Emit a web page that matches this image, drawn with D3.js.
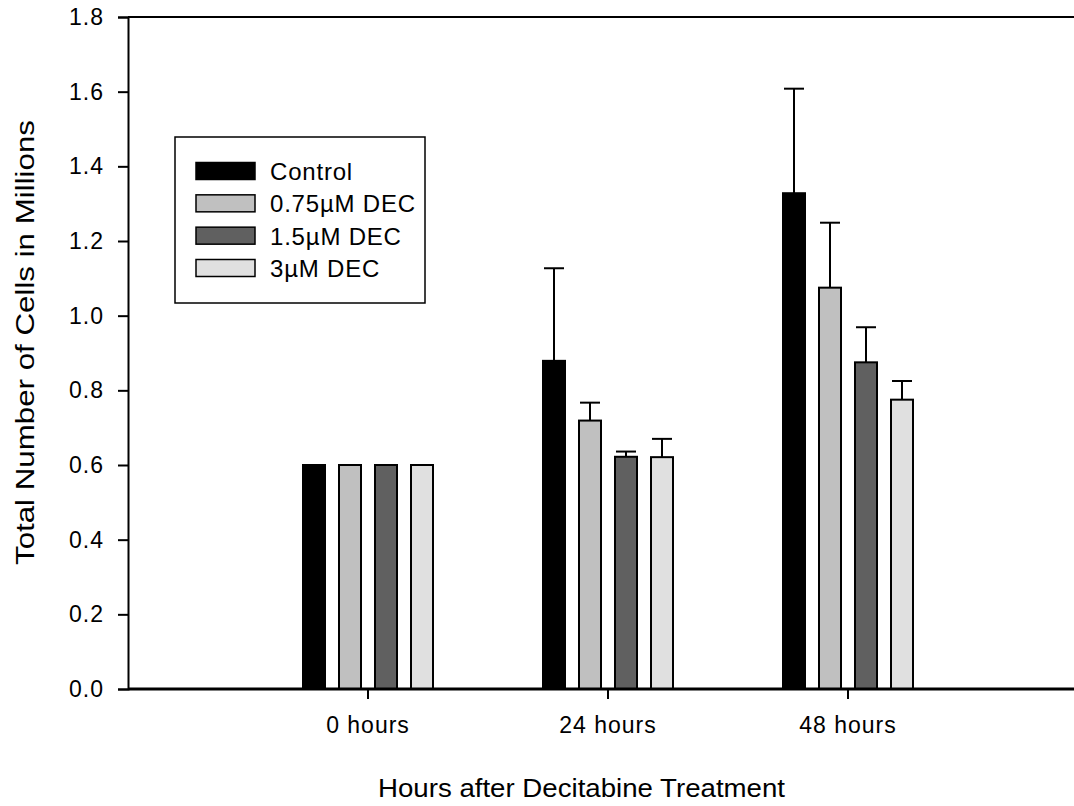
<!DOCTYPE html>
<html>
<head>
<meta charset="utf-8">
<script src="https://cdn.jsdelivr.net/npm/d3@7"></script>
<style>
  body { margin: 0; background: #fff; }
  text { font-family: "Liberation Sans", Arial, sans-serif; fill: #000; }
</style>
</head>
<body>
<div id="chart"></div>
<script>
// data
var categories = ["0 hours", "24 hours", "48 hours"];
var series = ["Control", "0.75\u00b5M DEC", "1.5\u00b5M DEC", "3\u00b5M DEC"];
var seriesColors = ["#000000", "#c0c0c0", "#606060", "#e0e0e0"];
var means = [
  [0.60, 0.879, 1.328],   // Control
  [0.60, 0.719, 1.075],   // 0.75uM
  [0.60, 0.622, 0.875],   // 1.5uM
  [0.60, 0.621, 0.775]    // 3uM
];
var errors = [
  [0, 0.248, 0.280],
  [0, 0.048, 0.174],
  [0, 0.014, 0.094],
  [0, 0.049, 0.050]
];
var yTicks = [0, 0.2, 0.4, 0.6, 0.8, 1.0, 1.2, 1.4, 1.6, 1.8];

(function() {
  var width = 1074,
      height = 806;

  var left = 128, right = 1074, top = 17, bottom = 689;

  var svg = d3.select("#chart")
    .append("svg")
    .attr("width", width)
    .attr("height", height);

  var y = d3.scaleLinear().domain([0, 1.8]).range([bottom, top]);

  // group positions: 368, 608, 848
  var x = d3.scaleBand().domain(categories).range([248, 968]).padding(0);

  // bars inside a group
  var xs = d3.scaleBand().domain(series).range([-72, 72])
    .paddingInner(0.389).paddingOuter(0.1945);

  var rows = [];
  series.forEach(function(s, si) {
    categories.forEach(function(c, ci) {
      rows.push({ s: s, si: si, c: c, v: means[si][ci], e: errors[si][ci] });
    });
  });

  // error bars (upper only)
  var eb = svg.append("g").attr("stroke", "#000").attr("stroke-width", 2);
  rows.filter(function(d) { return d.e > 0; }).forEach(function(d) {
    var cx = x(d.c) + x.bandwidth() / 2 + xs(d.s) + xs.bandwidth() / 2;
    eb.append("line")
      .attr("x1", cx).attr("x2", cx)
      .attr("y1", y(d.v)).attr("y2", y(d.v + d.e));
    eb.append("line")
      .attr("x1", cx - 10).attr("x2", cx + 10)
      .attr("y1", y(d.v + d.e)).attr("y2", y(d.v + d.e));
  });

  // bars
  svg.append("g").selectAll("rect")
    .data(rows)
    .enter().append("rect")
    .attr("x", function(d) { return x(d.c) + x.bandwidth() / 2 + xs(d.s); })
    .attr("y", function(d) { return y(d.v); })
    .attr("width", xs.bandwidth())
    .attr("height", function(d) { return y(0) - y(d.v); })
    .attr("fill", function(d) { return seriesColors[d.si]; })
    .attr("stroke", "#000")
    .attr("stroke-width", 2);

  // y axis
  var yAxis = svg.append("g")
    .attr("transform", "translate(" + left + ",0)")
    .call(d3.axisLeft(y).tickValues(yTicks).tickSize(10).tickPadding(14)
      .tickFormat(d3.format(".1f")));
  yAxis.select(".domain").attr("stroke-width", 2);
  yAxis.selectAll(".tick line").attr("stroke-width", 2);
  yAxis.selectAll("text")
    .style("font-size", "23px")
    .style("font-family", "Liberation Sans, Arial, sans-serif")
    .style("letter-spacing", "1px");

  // x axis
  var xAxis = svg.append("g")
    .attr("transform", "translate(0," + bottom + ")")
    .call(d3.axisBottom(x).tickSize(10).tickPadding(18).tickSizeOuter(0));
  xAxis.select(".domain").attr("d", "M" + left + ",0H" + right).attr("stroke-width", 3);
  xAxis.selectAll(".tick line").attr("stroke-width", 2);
  xAxis.selectAll("text")
    .style("font-size", "23px")
    .style("font-family", "Liberation Sans, Arial, sans-serif")
    .style("letter-spacing", "1px");

  // top line
  svg.append("line")
    .attr("x1", left).attr("x2", right)
    .attr("y1", top).attr("y2", top)
    .attr("stroke", "#000").attr("stroke-width", 2);

  // axis titles
  svg.append("text")
    .attr("x", 378).attr("y", 797)
    .attr("textLength", 407).attr("lengthAdjust", "spacingAndGlyphs")
    .style("font-size", "25px")
    .text("Hours after Decitabine Treatment");

  svg.append("text")
    .attr("transform", "translate(34,565) rotate(-90)")
    .attr("textLength", 445).attr("lengthAdjust", "spacingAndGlyphs")
    .style("font-size", "25px")
    .text("Total Number of Cells in Millions");

  // legend
  var legend = svg.append("g");
  legend.append("rect")
    .attr("x", 175).attr("y", 137).attr("width", 250).attr("height", 166)
    .attr("fill", "#fff").attr("stroke", "#000").attr("stroke-width", 1.5);

  var ly = d3.scalePoint().domain(series).range([171, 268]);
  var item = legend.selectAll(".item")
    .data(series)
    .enter().append("g")
    .attr("class", "item");
  item.append("rect")
    .attr("x", 196).attr("width", 59).attr("height", 17)
    .attr("y", function(d) { return ly(d) - 8.5; })
    .attr("fill", function(d, i) { return seriesColors[i]; })
    .attr("stroke", "#000").attr("stroke-width", 1.5);
  item.append("text")
    .attr("x", 270)
    .attr("y", function(d) { return ly(d) + 9; })
    .style("font-size", "24px")
    .style("letter-spacing", "0.8px")
    .text(function(d) { return d; });
})();
</script>
</body>
</html>
